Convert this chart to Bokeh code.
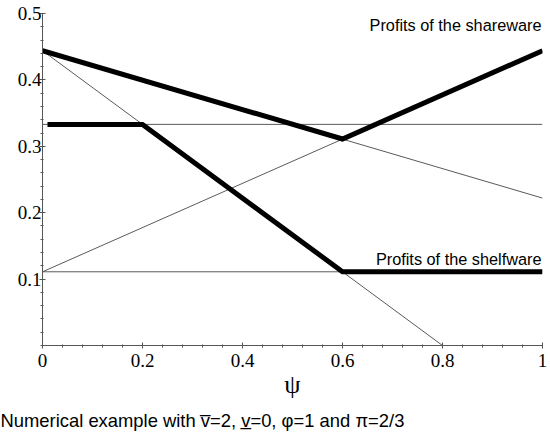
from bokeh.plotting import figure
from bokeh.models import (Range1d, LinearAxis, FixedTicker, Label, Title,
                          CustomJSTickFormatter)
from bokeh.embed import file_html
from bokeh.resources import INLINE

# thin reference lines (psi, profit)
steep_x = [0.0, 0.8]
steep_y = [0.444, 0.0]
gentle_x = [0.0, 1.0]
gentle_y = [0.444, 0.222]
upper_flat_x = [0.0, 1.0]
upper_flat_y = [0.333, 0.333]
lower_flat_x = [0.0, 1.0]
lower_flat_y = [0.111, 0.111]
rising_x = [0.0, 1.0]
rising_y = [0.111, 0.444]

# envelopes
shareware_x = [0.0, 0.6, 1.0]
shareware_y = [0.444, 0.311, 0.444]
shelfware_x = [0.01, 0.2, 0.6, 1.0]
shelfware_y = [0.333, 0.333, 0.111, 0.111]

x_ticks = [0.0, 0.2, 0.4, 0.6, 0.8, 1.0]
x_minor = [0.04 * i for i in range(26)]
y_ticks = [0.1, 0.2, 0.3, 0.4, 0.5]
y_minor = [0.02 * i for i in range(26)]

shareware_label = "Profits of the shareware"
shelfware_label = "Profits of the shelfware"
caption = "Numerical example with v\u0305=2, v\u0332=0, \u03c6=1 and \u03c0=2/3"

p = figure(width=550, height=438, output_backend="svg", toolbar_location=None,
           x_range=Range1d(0, 1), y_range=Range1d(0, 0.5),
           x_axis_type=None, y_axis_type=None,
           min_border_left=42, min_border_right=8,
           min_border_top=13, min_border_bottom=93)
p.outline_line_color = None
p.grid.visible = False
p.background_fill_color = "white"
p.border_fill_color = "white"

fmt = CustomJSTickFormatter(code="return String(tick)")

xaxis = LinearAxis(ticker=FixedTicker(ticks=x_ticks, minor_ticks=x_minor),
                   formatter=fmt, axis_label="\u03c8")
yaxis = LinearAxis(ticker=FixedTicker(ticks=y_ticks, minor_ticks=y_minor),
                   formatter=fmt)
for ax in (xaxis, yaxis):
    ax.axis_line_color = "#555555"
    ax.major_tick_line_color = "#555555"
    ax.minor_tick_line_color = "#555555"
    ax.major_tick_in = 3
    ax.major_tick_out = 3
    ax.minor_tick_in = 1
    ax.minor_tick_out = 2
    ax.major_label_text_font = "Liberation Serif"
    ax.major_label_text_font_size = "19px"
    ax.major_label_text_color = "black"
xaxis.major_label_standoff = 5
yaxis.major_label_standoff = -2
yaxis.major_label_text_align = "right"
yaxis.major_label_text_baseline = "middle"
xaxis.axis_label_text_font = "Liberation Serif"
xaxis.axis_label_text_font_size = "26px"
xaxis.axis_label_text_font_style = "normal"
xaxis.axis_label_text_color = "black"
xaxis.axis_label_standoff = 0
p.add_layout(xaxis, "below")
p.add_layout(yaxis, "left")

thin = dict(line_color="#5a5a5a", line_width=1)
p.line(steep_x, steep_y, **thin)
p.line(gentle_x, gentle_y, **thin)
p.line(upper_flat_x, upper_flat_y, **thin)
p.line(lower_flat_x, lower_flat_y, **thin)
p.line(rising_x, rising_y, **thin)

thick = dict(line_color="black", line_width=5, line_join="miter")
p.line(shareware_x, shareware_y, **thick)
p.line(shelfware_x, shelfware_y, **thick)

p.add_layout(Label(x=0.998, y=0.482, text=shareware_label, text_align="right",
                   text_font="Liberation Sans", text_font_size="16.3px",
                   text_color="black", text_baseline="alphabetic"))
p.add_layout(Label(x=0.998, y=0.131, text=shelfware_label, text_align="right",
                   text_font="Liberation Sans", text_font_size="16.3px",
                   text_color="black", text_baseline="alphabetic"))

p.add_layout(Title(text=caption, align="left", offset=-42, standoff=12,
                   text_font="Liberation Sans", text_font_size="18.4px",
                   text_font_style="normal", text_color="black"), "below")

open("out.html", "w").write(file_html(p, INLINE))
